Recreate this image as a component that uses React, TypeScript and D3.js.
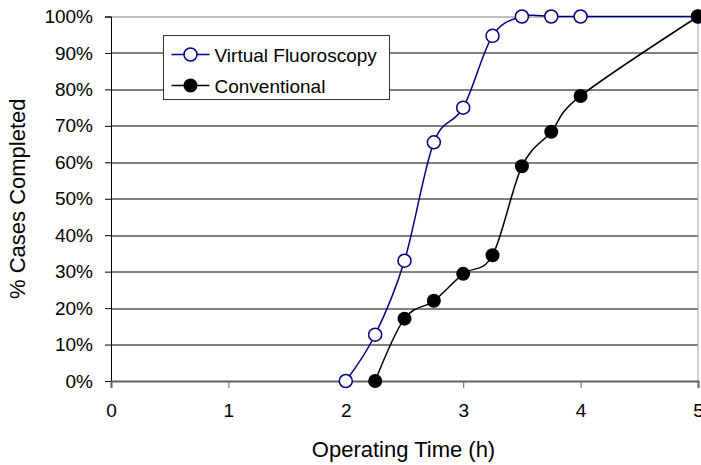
import React, { useEffect, useRef } from 'react';
import * as d3 from 'd3';

const hours = [2, 2.25, 2.5, 2.75, 3, 3.25, 3.5, 3.75, 4, 5];
const virtualFluoro = [0, 12.7, 33, 65.5, 75, 94.7, 100, 100, 100, 100];
const convHours = [2.25, 2.5, 2.75, 3, 3.25, 3.5, 3.75, 4, 5];
const conventional = [0, 17.1, 22, 29.4, 34.5, 58.9, 68.4, 78.2, 100];
const xTicks = [0, 1, 2, 3, 4, 5];
const yTicks = [0, 10, 20, 30, 40, 50, 60, 70, 80, 90, 100];
const seriesNames = ['Virtual Fluoroscopy', 'Conventional'];

const App: React.FC = () => {
    const svgRef = useRef<SVGSVGElement>(null);

    useEffect(() => {
        if (!svgRef.current) return;
        const width = 701;
        const height = 465;
        const margin = { top: 16.5, right: 3, bottom: 84, left: 111 };
        const innerW = width - margin.left - margin.right;
        const innerH = height - margin.top - margin.bottom;
        const font = 'Liberation Sans, Arial, sans-serif';

        const svg = d3.select(svgRef.current);
        svg.selectAll('*').remove();

        const g = svg.append('g').attr('transform', `translate(${margin.left},${margin.top})`);

        const x = d3.scaleLinear().domain([0, 5]).range([0, innerW]);
        const y = d3.scaleLinear().domain([0, 100]).range([innerH, 0]);

        // gridlines
        g.selectAll('line.grid')
            .data(yTicks.slice(1, -1))
            .enter()
            .append('line')
            .attr('x1', 0)
            .attr('x2', innerW)
            .attr('y1', d => Math.round(y(d)) + 0.5)
            .attr('y2', d => Math.round(y(d)) + 0.5)
            .attr('stroke', '#000')
            .attr('stroke-width', 1);

        // plot border (top/right)
        g.append('line')
            .attr('x1', 0).attr('x2', innerW)
            .attr('y1', Math.round(y(100)) + 0.5).attr('y2', Math.round(y(100)) + 0.5)
            .attr('stroke', '#808080');
        g.append('line')
            .attr('x1', innerW).attr('x2', innerW)
            .attr('y1', y(100)).attr('y2', y(0))
            .attr('stroke', '#a0a0a0');

        // y axis
        const yAxis = d3.axisLeft(y).tickValues(yTicks).tickSize(6).tickPadding(12)
            .tickFormat(d => `${d}%`);
        const ya = g.append('g').call(yAxis);
        ya.select('.domain').attr('stroke', '#000');
        ya.selectAll('line').attr('stroke', '#000');
        ya.selectAll('text').attr('fill', '#000').style('font-family', font).style('font-size', '19px');

        // x axis
        const xAxis = d3.axisBottom(x).tickValues(xTicks).tickSize(7).tickPadding(16)
            .tickFormat(d3.format('d'));
        const xa = g.append('g').attr('transform', `translate(0,${innerH})`).call(xAxis);
        xa.select('.domain').attr('stroke', '#606060').attr('stroke-width', 2);
        xa.selectAll('line').attr('stroke', '#606060');
        xa.selectAll('text').attr('fill', '#000').style('font-family', font).style('font-size', '19px');

        // axis titles
        svg.append('text')
            .attr('x', margin.left + innerW / 2 - 1)
            .attr('y', 457)
            .attr('text-anchor', 'middle')
            .style('font-family', font)
            .style('font-size', '22px')
            .text('Operating Time (h)');

        svg.append('text')
            .attr('transform', `translate(25,${margin.top + innerH / 2}) rotate(-90)`)
            .attr('text-anchor', 'middle')
            .style('font-family', font)
            .style('font-size', '22px')
            .text('% Cases Completed');

        const line = d3.line<[number, number]>()
            .x(d => x(d[0]))
            .y(d => y(d[1]))
            .curve(d3.curveCardinal.tension(0));

        const vfData: [number, number][] = hours.map((h, i) => [h, virtualFluoro[i]]);
        const cvData: [number, number][] = convHours.map((h, i) => [h, conventional[i]]);

        g.append('path')
            .attr('d', line(cvData))
            .attr('fill', 'none')
            .attr('stroke', '#000')
            .attr('stroke-width', 1.5);

        g.append('path')
            .attr('d', line(vfData))
            .attr('fill', 'none')
            .attr('stroke', '#000080')
            .attr('stroke-width', 1.5);

        g.selectAll('circle.vf')
            .data(vfData)
            .enter()
            .append('circle')
            .attr('cx', d => x(d[0]))
            .attr('cy', d => y(d[1]))
            .attr('r', 6.5)
            .attr('fill', '#fff')
            .attr('stroke', '#000080')
            .attr('stroke-width', 1.5);

        g.selectAll('circle.cv')
            .data(cvData)
            .enter()
            .append('circle')
            .attr('cx', d => x(d[0]))
            .attr('cy', d => y(d[1]))
            .attr('r', 7)
            .attr('fill', '#000');

        // legend
        const lg = svg.append('g').attr('transform', 'translate(163.5,35.5)');
        lg.append('rect')
            .attr('width', 226)
            .attr('height', 64)
            .attr('fill', '#fff')
            .attr('stroke', '#333')
            .attr('stroke-width', 1);

        seriesNames.forEach((name, i) => {
            const cy = 19 + i * 31;
            const color = i === 0 ? '#000080' : '#000';
            lg.append('line')
                .attr('x1', 8).attr('x2', 46)
                .attr('y1', cy).attr('y2', cy)
                .attr('stroke', color)
                .attr('stroke-width', 1.5);
            lg.append('circle')
                .attr('cx', 27)
                .attr('cy', cy)
                .attr('r', i === 0 ? 6.5 : 7)
                .attr('fill', i === 0 ? '#fff' : '#000')
                .attr('stroke', i === 0 ? color : 'none')
                .attr('stroke-width', 1.5);
            lg.append('text')
                .attr('x', 51)
                .attr('y', cy + 7)
                .style('font-family', font)
                .style('font-size', '19px')
                .text(name);
        });
    }, []);

    return (
        <svg
            ref={svgRef}
            width={701}
            height={465}
            style={{ position: 'absolute', left: 0, top: 0, background: '#fff' }}
        />
    );
};

export default App;
